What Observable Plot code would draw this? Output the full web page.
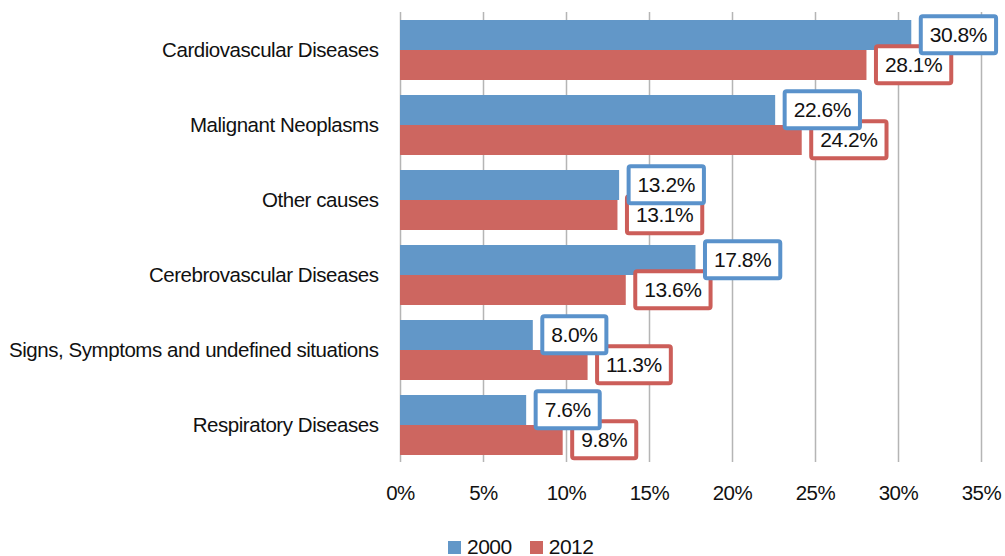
<!DOCTYPE html>
<html>
<head>
<meta charset="utf-8">
<script src="https://cdn.jsdelivr.net/npm/d3@7"></script>
<script src="https://cdn.jsdelivr.net/npm/@observablehq/plot@0.6"></script>
<style>
  body { margin: 0; background: #fff; }
  #legend { display: flex; align-items: center; margin-left: 448px; margin-top: 5px; font-family: "Liberation Sans", Arial, sans-serif; font-size: 21px; letter-spacing: -0.5px; color: #111; }
  #legend .sw { width: 13px; height: 13px; display: inline-block; margin-right: 6px; }
  #legend .item { display: flex; align-items: center; margin-right: 18px; }
</style>
</head>
<body>
<div id="chart"></div>
<div id="legend"></div>
<script>
const categories = [
  "Cardiovascular Diseases",
  "Malignant Neoplasms",
  "Other causes",
  "Cerebrovascular Diseases",
  "Signs, Symptoms and undefined situations",
  "Respiratory Diseases"
];
const values2000 = [30.8, 22.6, 13.2, 17.8, 8.0, 7.6];
const values2012 = [28.1, 24.2, 13.1, 13.6, 11.3, 9.8];
const xTicks = [0, 5, 10, 15, 20, 25, 30, 35];
const seriesNames = ["2000", "2012"];
const colors = {"2000": "#6297c8", "2012": "#cd6660"};
const borderColors = {"2000": "#5a92cb", "2012": "#cc5e59"};

const data2000 = categories.map((c, i) => ({category: c, value: values2000[i]}));
const data2012 = categories.map((c, i) => ({category: c, value: values2012[i]}));
const fmt = v => v.toFixed(1) + "%";
const font = '"Liberation Sans", Arial, sans-serif';

const chart = Plot.plot({
  width: 1005,
  height: 530,
  marginLeft: 400,
  marginRight: 24,
  marginTop: 12,
  marginBottom: 68,
  style: {fontFamily: font, fontSize: "20.5px", color: "#111", background: "#fff", letterSpacing: "-0.45px"},
  x: {domain: [0, 35], ticks: xTicks, tickFormat: d => d + "%", tickSize: 0, tickPadding: 23, label: null},
  y: {domain: categories, paddingInner: 0.2, paddingOuter: 0.1, tickSize: 0, tickPadding: 22, label: null},
  marks: [
    Plot.ruleX(xTicks, {stroke: "#b5b5b5", strokeWidth: 1.5}),
    Plot.barX(data2000, {x: "value", y: "category", fill: colors["2000"], insetBottom: 30, insetTop: 0}),
    Plot.barX(data2012, {x: "value", y: "category", fill: colors["2012"], insetTop: 30, insetBottom: 0}),
    Plot.text(data2012, {x: "value", y: "category", text: d => fmt(d.value), dy: 15, dx: 18, textAnchor: "start", fontSize: 21, fill: "#111", ariaLabel: "labels-2012"}),
    Plot.text(data2000, {x: "value", y: "category", text: d => fmt(d.value), dy: -15, dx: 18, textAnchor: "start", fontSize: 21, fill: "#111", ariaLabel: "labels-2000"})
  ]
});
document.getElementById("chart").append(chart);

// draw framed boxes behind each value label (2012 group first, 2000 group second)
let groups = Array.from(chart.querySelectorAll('g[aria-label^="labels-"]'));
if (groups.length < 2) groups = Array.from(chart.querySelectorAll('g[aria-label="text"]'));
const groupSeries = ["2012", "2000"];
groups.forEach((g, gi) => {
  const s = groupSeries[gi] || "2000";
  g.querySelectorAll("text").forEach(t => {
    const b = t.getBBox();
    const r = document.createElementNS("http://www.w3.org/2000/svg", "rect");
    const padX = 9, padY = 8;
    r.setAttribute("x", b.x - padX);
    r.setAttribute("y", b.y - padY + 1);
    r.setAttribute("width", b.width + 2 * padX);
    r.setAttribute("height", b.height + 2 * padY - 2);
    r.setAttribute("rx", 2);
    r.setAttribute("fill", "#fff");
    r.setAttribute("stroke", borderColors[s]);
    r.setAttribute("stroke-width", 4);
    const tr = t.getAttribute("transform");
    if (tr) r.setAttribute("transform", tr);
    t.parentNode.insertBefore(r, t);
  });
});

const legend = document.getElementById("legend");
for (const s of seriesNames) {
  const item = document.createElement("div");
  item.className = "item";
  item.innerHTML = `<span class="sw" style="background:${colors[s]}"></span><span>${s}</span>`;
  legend.append(item);
}
</script>
</body>
</html>
